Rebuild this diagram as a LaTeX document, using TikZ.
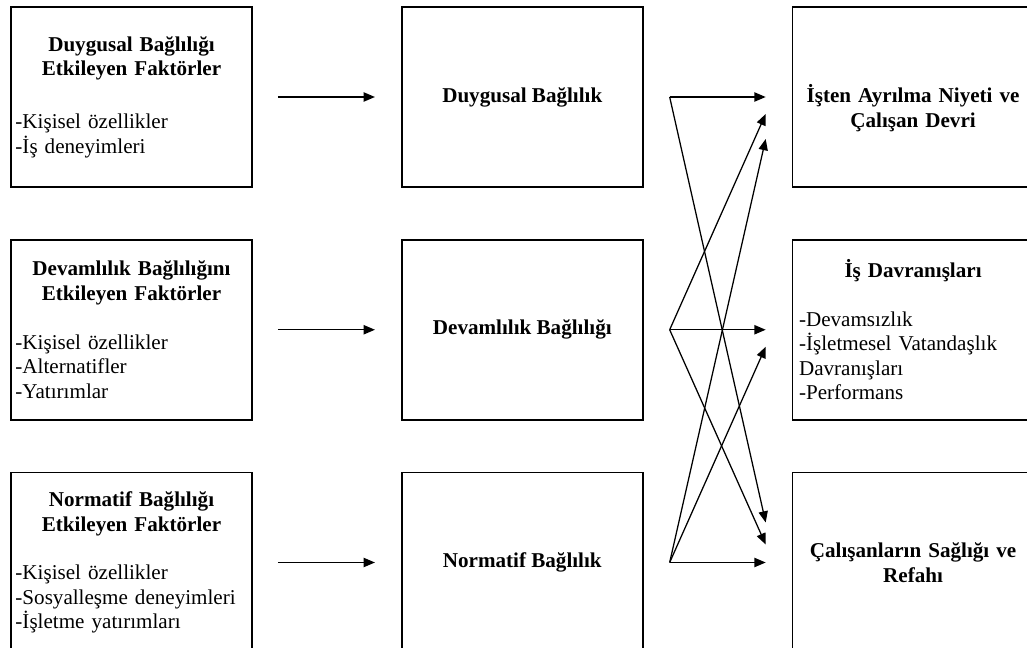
\documentclass[tikz,border=0pt]{standalone}
\usepackage{fontspec}
\setmainfont{Liberation Serif}
\usetikzlibrary{arrows.meta, positioning}
\tikzset{
  factor_box/.style={rectangle, draw=black, line width=1.2pt, minimum width=6.025cm, minimum height=4.5cm, text width=5.8cm, inner sep=2pt, align=left},
  commit_box/.style={rectangle, draw=black, line width=1.2pt, minimum width=6.025cm, minimum height=4.5cm, align=center, font=\fontsize{15}{17.5}\selectfont\bfseries},
  outcome_box/.style={rectangle, draw=black, line width=1.2pt, minimum width=6.025cm, minimum height=4.5cm, text width=5.7cm, inner sep=2pt, align=left},
  arrow/.style={-{Triangle[length=2.8mm, width=2.3mm]}, line width=0.9pt, black}
}

\begin{document}
\begin{tikzpicture}[
    x=0.025cm, y=-0.025cm,
    font=\fontsize{15}{17.5}\selectfont,
    node distance=1.275cm and 3.7cm
]
\useasboundingbox (0,0) rectangle (1027,648);
\clip (0,0) rectangle (1027,648);

% 1. Factor boxes (left column)
\node[factor_box] (l1) at (131.5,97) {%
  {\centering\bfseries Duygusal Bağlılığı\\ Etkileyen Faktörler\par}\vspace{20pt}
  -Kişisel özellikler\\
  -İş deneyimleri};
\node[factor_box, below=of l1] (l2) {%
  {\centering\bfseries Devamlılık Bağlılığını\\ Etkileyen Faktörler\par}\vspace{17pt}
  -Kişisel özellikler\\
  -Alternatifler\\
  -Yatırımlar};
\node[factor_box, below=of l2] (l3) {%
  {\centering\bfseries Normatif Bağlılığı\\ Etkileyen Faktörler\par}\vspace{17pt}
  -Kişisel özellikler\\
  -Sosyalleşme deneyimleri\\
  -İşletme yatırımları};

% 2. Commitment boxes (middle column)
\node[commit_box, right=of l1] (m1) {Duygusal Bağlılık};
\node[commit_box, right=of l2] (m2) {Devamlılık Bağlılığı};
\node[commit_box, right=of l3] (m3) {Normatif Bağlılık};

% 3. Outcome boxes (right column)
\node[outcome_box, right=of m1] (r1) {%
  {\centering\bfseries\rule{0pt}{29pt}İşten Ayrılma Niyeti ve\\ Çalışan Devri\par}};
\node[outcome_box, right=of m2] (r2) {%
  {\centering\bfseries İş Davranışları\par}\vspace{17pt}
  -Devamsızlık\\
  -İşletmesel Vatandaşlık\\
  Davranışları\\
  -Performans};
\node[outcome_box, right=of m3] (r3) {%
  {\centering\bfseries Çalışanların Sağlığı ve\\ Refahı\par}};

% 4. Arrows from factors to commitments
\draw[arrow] ([xshift=0.625cm]l1.east) -- ([xshift=-0.65cm]m1.west);
\draw[arrow] ([xshift=0.625cm]l2.east) -- ([xshift=-0.65cm]m2.west);
\draw[arrow] ([xshift=0.625cm]l3.east) -- ([xshift=-0.65cm]m3.west);

% 5. Arrows from commitments to outcomes
\coordinate (m1_out) at ([xshift=0.65cm]m1.east);
\coordinate (m2_out) at ([xshift=0.65cm]m2.east);
\coordinate (m3_out) at ([xshift=0.65cm]m3.east);

\draw[arrow] (m1_out) -- ([xshift=-0.65cm]r1.west);
\draw[arrow] (m1_out) -- ([xshift=-0.65cm, yshift=1cm]r3.west);
\draw[arrow] (m2_out) -- ([xshift=-0.65cm, yshift=-0.425cm]r1.west);
\draw[arrow] (m2_out) -- ([xshift=-0.65cm]r2.west);
\draw[arrow] (m2_out) -- ([xshift=-0.65cm, yshift=0.45cm]r3.west);
\draw[arrow] (m3_out) -- ([xshift=-0.65cm, yshift=-1.05cm]r1.west);
\draw[arrow] (m3_out) -- ([xshift=-0.65cm, yshift=-0.425cm]r2.west);
\draw[arrow] (m3_out) -- ([xshift=-0.65cm]r3.west);

\end{tikzpicture}
\end{document}
